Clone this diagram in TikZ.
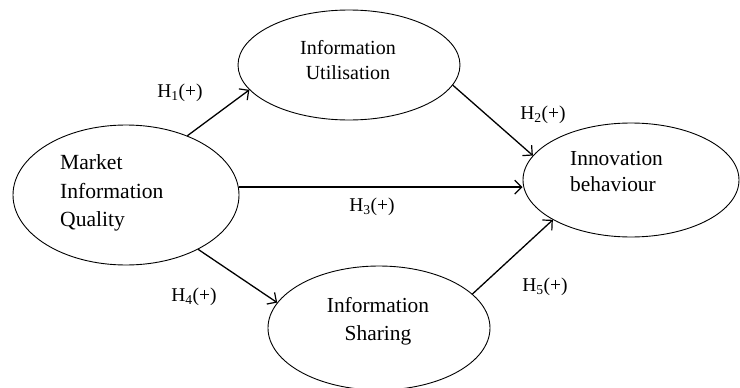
\documentclass[tikz,border=0pt]{standalone}
\usepackage{fontspec}
\setmainfont{Liberation Serif}
\usetikzlibrary{shapes.geometric,arrows.meta}
\tikzset{
  ell/.style={draw, ellipse, line width=0.9pt, inner sep=0pt},
  arr/.style={line width=1.3pt, -{Straight Barb[length=7pt,width=14pt,line width=1.2pt]}},
  hyp/.style={font=\fontsize{19.5}{21}\selectfont, inner sep=0pt},
  txt/.style={inner sep=0pt, font=\fontsize{21.3}{28}\selectfont}
}
\begin{document}
\begin{tikzpicture}[x=1pt,y=-1pt]
\useasboundingbox (0,0) rectangle (740,388);
% ellipses
\node[ell, minimum width=226pt, minimum height=140pt] (mq) at (126,195) {};
\node[ell, minimum width=222pt, minimum height=110pt] (iu) at (349,65) {};
\node[ell, minimum width=216pt, minimum height=114pt] (ib) at (631,180) {};
\node[ell, minimum width=222pt, minimum height=124pt] (is) at (379,328) {};
% texts
\node[txt, align=left, anchor=west, font=\fontsize{21.6}{28.5}\selectfont] (mqt) at (60,193) {Market\\Information\\Quality};
\node[txt, align=center, font=\fontsize{20}{25}\selectfont] (iut) at (348,60) {Information\\Utilisation};
\node[txt, align=left, anchor=west, font=\fontsize{21.4}{26}\selectfont] (ibt) at (570,172) {Innovation\\behaviour};
\node[txt, align=center, font=\fontsize{21.4}{28}\selectfont] (ist) at (378,321) {Information\\Sharing};
% connectors
\draw[arr] (mq.44) -- (iu.194);
\draw[arr] (iu.-11.5) -- (ib.166);
\draw[arr] (mq.4.6) -- (mq.4.6 -| ib.west);
\draw[arr] (mq.-37.4) -- (is.166);
\draw[arr] (is.20) -- (ib.207);
% labels
\node[hyp] (h1) at (180,93) {H\textsubscript{1}(+)};
\node[hyp] (h2) at (543,115) {H\textsubscript{2}(+)};
\node[hyp] (h3) at (372,207) {H\textsubscript{3}(+)};
\node[hyp] (h4) at (194,297) {H\textsubscript{4}(+)};
\node[hyp] (h5) at (545,287) {H\textsubscript{5}(+)};
\end{tikzpicture}
\end{document}
